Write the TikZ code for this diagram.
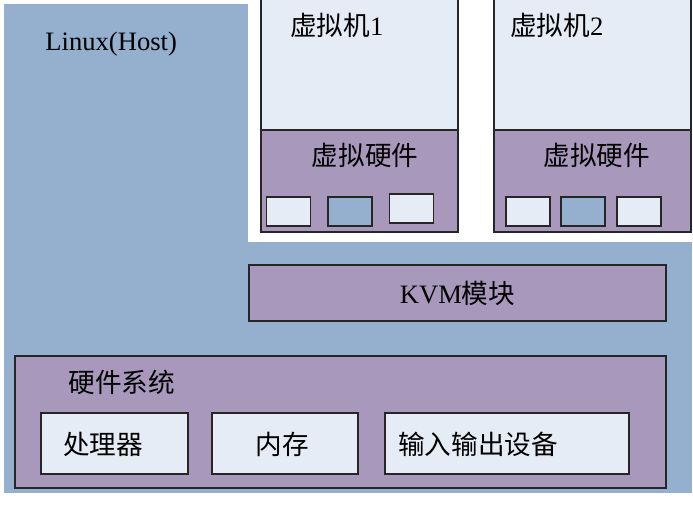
\documentclass[tikz,border=0pt]{standalone}
\usepackage{fontspec}
\setmainfont{Liberation Serif}
\newfontfamily\cjk{Noto Sans CJK SC}
\definecolor{hostblue}{RGB}{149,175,207}
\definecolor{hwpurple}{RGB}{168,152,188}
\definecolor{lightbox}{RGB}{230,236,246}

\begin{document}
\begin{tikzpicture}[x=0.5pt,y=-0.5pt,
  every node/.style={font=\fontsize{13.3}{15}\selectfont},
  box/.style={draw=black!85, line width=0.75pt, inner sep=0pt},
  guest/.style={box, fill=lightbox, minimum width=98.5pt, minimum height=66pt},
  vhw/.style={box, fill=hwpurple, minimum width=98.5pt, minimum height=51pt},
  dev/.style={box, minimum width=22pt, minimum height=14.5pt},
  part/.style={box, fill=lightbox, minimum height=30.5pt},
  label/.style={anchor=west, inner sep=0pt}]

\useasboundingbox (0,0) rectangle (693,521);

% Host background, with the white area behind the guests
\fill[hostblue] (4,4) rectangle (692,493);
\fill[white] (248,0) rectangle (693,242);
\node[label] (host) at (45,44) {Linux(Host)};

% Guest 1
\node[guest] (vmA) at (359.5,64) {};
\node[vhw] (vhwA) at (359.5,181) {};
\node[label] (vmAtext) at (290,25) {{\cjk 虚拟机}1};
\node (vhwAtext) at (365,155) {\cjk 虚拟硬件};
\node[dev, fill=lightbox] (devA1) at (288.5,211.5) {};
\node[dev, fill=hostblue] (devA2) at (350,211.5) {};
\node[dev, fill=lightbox] (devA3) at (411.5,208.5) {};

% Guest 2
\node[guest] (vmB) at (592.5,64) {};
\node[vhw] (vhwB) at (592.5,181) {};
\node[label] (vmBtext) at (510,25) {{\cjk 虚拟机}2};
\node (vhwBtext) at (597,155) {\cjk 虚拟硬件};
\node[dev, fill=lightbox] (devB1) at (528,211.5) {};
\node[dev, fill=hostblue] (devB2) at (583,211.5) {};
\node[dev, fill=lightbox] (devB3) at (639,211.5) {};

% KVM module
\node[box, fill=hwpurple, minimum width=208.5pt, minimum height=28pt] (kvm) at (457.5,293) {KVM{\cjk 模块}};

% Physical hardware
\node[box, fill=hwpurple, minimum width=325.5pt, minimum height=66pt] (hw) at (340.5,422) {};
\node[label] (hwtext) at (68,382) {\cjk 硬件系统};
\node[part, minimum width=73.5pt] (cpu) at (114.5,443.5) {};
\node[part, minimum width=73pt] (mem) at (285,443.5) {};
\node[part, minimum width=122pt] (io) at (507,443.5) {};
\node[label] (cputext) at (63,444) {\cjk 处理器};
\node[label] (memtext) at (255,444) {\cjk 内存};
\node[label] (iotext) at (398,444) {\cjk 输入输出设备};

\end{tikzpicture}
\end{document}
